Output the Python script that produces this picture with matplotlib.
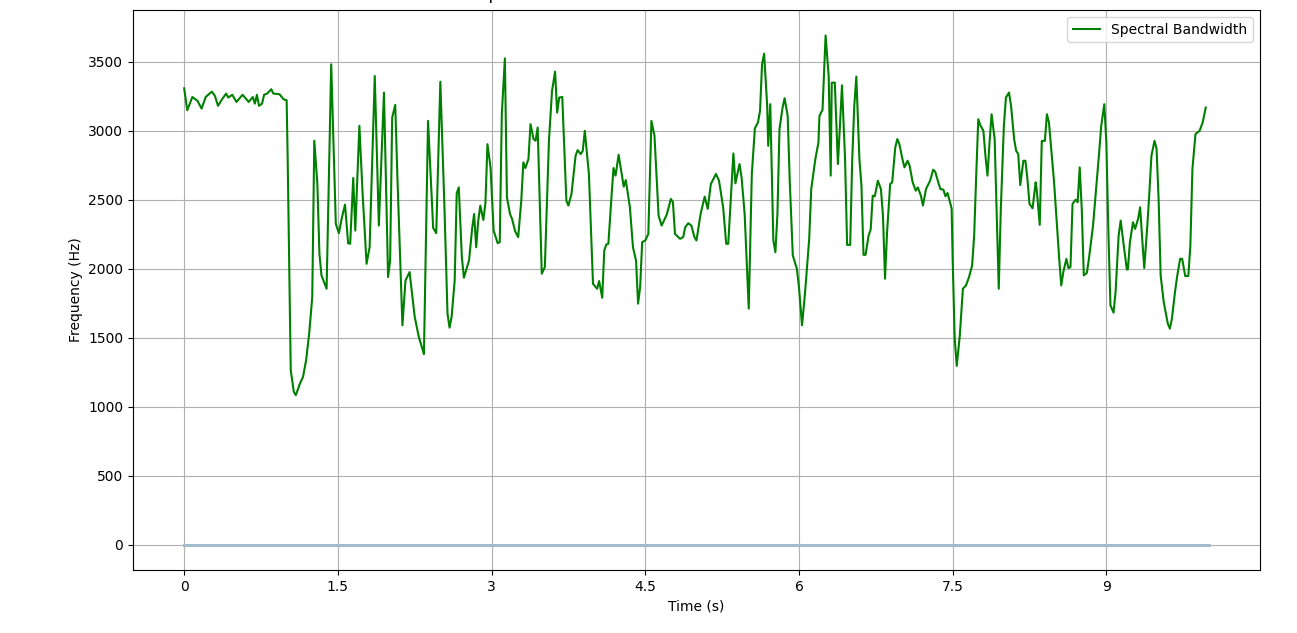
import matplotlib
matplotlib.use("Agg")
import matplotlib.pyplot as plt
from matplotlib.ticker import FuncFormatter

# spectral bandwidth (time in s, Hz)
bw_time = [
    0.00, 0.03, 0.08, 0.13, 0.17, 0.21, 0.27, 0.30, 0.33, 0.37, 0.41, 0.43, 0.47, 0.51,
    0.57, 0.63, 0.67, 0.69, 0.71, 0.73, 0.76, 0.78, 0.81, 0.85, 0.87, 0.93, 0.97, 1.00,
    1.01, 1.04, 1.07, 1.09, 1.13, 1.16, 1.19, 1.22, 1.25, 1.27, 1.30, 1.32, 1.34, 1.39,
    1.435, 1.48, 1.51, 1.54, 1.57, 1.60, 1.62, 1.65, 1.67, 1.71, 1.74, 1.78, 1.81, 1.86,
    1.90, 1.95, 1.99, 2.01, 2.03, 2.06, 2.08, 2.13, 2.16, 2.20, 2.25, 2.29, 2.34, 2.36,
    2.38, 2.43, 2.46, 2.50, 2.54, 2.57, 2.59, 2.61, 2.64, 2.66, 2.68, 2.71, 2.73, 2.78,
    2.81, 2.83, 2.85, 2.87, 2.89, 2.92, 2.94, 2.96, 2.99, 3.02, 3.06, 3.08, 3.10, 3.13,
    3.15, 3.18, 3.20, 3.23, 3.26, 3.29, 3.31, 3.33, 3.36, 3.38, 3.41, 3.43, 3.45, 3.49,
    3.52, 3.56, 3.59, 3.62, 3.64, 3.66, 3.69, 3.73, 3.75, 3.78, 3.82, 3.84, 3.87, 3.89,
    3.91, 3.95, 3.99, 4.03, 4.05, 4.08, 4.10, 4.12, 4.14, 4.17, 4.19, 4.21, 4.24, 4.26,
    4.29, 4.31, 4.35, 4.38, 4.41, 4.43, 4.45, 4.47, 4.50, 4.53, 4.56, 4.59, 4.63, 4.66,
    4.71, 4.75, 4.77, 4.79, 4.84, 4.87, 4.89, 4.92, 4.95, 4.98, 5.00, 5.04, 5.08, 5.11,
    5.14, 5.19, 5.22, 5.26, 5.29, 5.31, 5.33, 5.36, 5.38, 5.42, 5.44, 5.47, 5.51, 5.54,
    5.57, 5.60, 5.62, 5.64, 5.66, 5.69, 5.70, 5.72, 5.75, 5.77, 5.79, 5.81, 5.84, 5.86,
    5.89, 5.91, 5.94, 5.98, 6.00, 6.03, 6.06, 6.10, 6.12, 6.16, 6.19, 6.20, 6.23, 6.26,
    6.29, 6.31, 6.32, 6.35, 6.38, 6.40, 6.42, 6.45, 6.47, 6.50, 6.52, 6.54, 6.56, 6.59,
    6.61, 6.63, 6.65, 6.68, 6.70, 6.72, 6.74, 6.77, 6.80, 6.82, 6.84, 6.86, 6.89, 6.91,
    6.94, 6.96, 6.98, 7.01, 7.03, 7.06, 7.08, 7.11, 7.14, 7.16, 7.19, 7.21, 7.24, 7.28,
    7.31, 7.33, 7.36, 7.38, 7.41, 7.43, 7.45, 7.49, 7.50, 7.52, 7.54, 7.57, 7.60, 7.63,
    7.66, 7.69, 7.71, 7.73, 7.75, 7.77, 7.80, 7.82, 7.84, 7.86, 7.88, 7.91, 7.93, 7.95,
    7.97, 8.00, 8.02, 8.05, 8.07, 8.10, 8.12, 8.14, 8.16, 8.19, 8.21, 8.23, 8.25, 8.28,
    8.31, 8.32, 8.35, 8.37, 8.40, 8.42, 8.44, 8.47, 8.49, 8.52, 8.54, 8.56, 8.58, 8.61,
    8.63, 8.65, 8.67, 8.70, 8.72, 8.74, 8.76, 8.78, 8.81, 8.83, 8.87, 8.90, 8.93, 8.95,
    8.98, 9.00, 9.02, 9.04, 9.07, 9.09, 9.12, 9.14, 9.17, 9.20, 9.21, 9.23, 9.26, 9.28,
    9.31, 9.33, 9.35, 9.37, 9.40, 9.42, 9.44, 9.47, 9.49, 9.51, 9.53, 9.56, 9.60, 9.62,
    9.64, 9.67, 9.69, 9.72, 9.74, 9.77, 9.80, 9.82, 9.84, 9.87, 9.91, 9.94, 9.97,
]
bw_hz = [
    3307, 3148, 3244, 3216, 3160, 3244, 3283, 3252, 3180, 3228, 3269, 3240, 3260, 3208,
    3260, 3208, 3244, 3196, 3260, 3180, 3196, 3260, 3269, 3300, 3269, 3264, 3228, 3220,
    2806, 1264, 1107, 1083, 1167, 1216, 1336, 1529, 1794, 2927, 2613, 2107, 1951, 1854,
    3481, 2324, 2257, 2372, 2464, 2184, 2180, 2657, 2276, 3035, 2565, 2035, 2155, 3396,
    2312, 3276, 1939, 2059, 3095, 3187, 2686, 1589, 1915, 1975, 1650, 1505, 1380, 2204,
    3071, 2295, 2257, 3355, 2445, 1674, 1572, 1650, 1915, 2546, 2589, 2083, 1934, 2059,
    2288, 2396, 2155, 2348, 2457, 2353, 2474, 2902, 2734, 2276, 2184, 2192, 3119, 3524,
    2517, 2396, 2360, 2271, 2228, 2493, 2770, 2729, 2794, 3047, 2939, 2927, 3023, 1963,
    2011, 2927, 3288, 3428, 3131, 3240, 3244, 2493, 2457, 2541, 2818, 2859, 2830, 2854,
    2999, 2686, 1890, 1854, 1910, 1789, 2131, 2175, 2180, 2517, 2729, 2674, 2825, 2734,
    2594, 2642, 2445, 2155, 2059, 1746, 1866, 2192, 2204, 2252, 3071, 2963, 2384, 2312,
    2392, 2505, 2481, 2252, 2216, 2228, 2300, 2329, 2312, 2228, 2204, 2396, 2522, 2433,
    2613, 2686, 2637, 2445, 2180, 2180, 2445, 2835, 2618, 2758, 2661, 2396, 1710, 2686,
    3018, 3059, 3143, 3481, 3558, 3180, 2890, 3192, 2204, 2119, 2396, 3011, 3167, 3235,
    3107, 2637, 2095, 1999, 1866, 1589, 1830, 2216, 2577, 2794, 2914, 3107, 3151, 3690,
    3396, 2674, 3348, 3348, 2758, 3035, 3329, 2794, 2172, 2172, 2794, 3180, 3392, 2794,
    2601, 2100, 2100, 2240, 2283, 2529, 2524, 2637, 2577, 2384, 1927, 2264, 2613, 2625,
    2878, 2939, 2902, 2794, 2734, 2782, 2746, 2625, 2565, 2589, 2529, 2457, 2577, 2637,
    2717, 2702, 2625, 2577, 2572, 2524, 2548, 2437, 2071, 1493, 1295, 1517, 1854, 1878,
    1939, 2023, 2240, 2674, 3083, 3040, 2999, 2818, 2674, 2914, 3119, 2939, 2408, 1854,
    2433, 3035, 3240, 3276, 3180, 2939, 2854, 2830, 2606, 2782, 2782, 2649, 2469, 2437,
    2625, 2577, 2317, 2926, 2926, 3119, 3059, 2794, 2625, 2288, 2071, 1878, 1975, 2071,
    2004, 2011, 2469, 2500, 2481, 2734, 2433, 1951, 1970, 2071, 2312, 2577, 2842, 3035,
    3192, 2914, 2264, 1734, 1681, 1830, 2240, 2348, 2167, 1994, 1994, 2191, 2336, 2288,
    2360, 2445, 2216, 2004, 2312, 2553, 2818, 2926, 2871, 2505, 1951, 1758, 1601, 1565,
    1637, 1830, 1939, 2071, 2071, 1946, 1946, 2167, 2722, 2975, 2999, 3059, 3167,
]

# waveform drawn underneath (amplitude is tiny on the Hz scale)
wave_time = [0.0, 10.0]
wave_amp = [0.0, 0.0]

x_ticks = [0, 1.5, 3, 4.5, 6, 7.5, 9]


def time_label(x, pos):
    return f"{x:g}"


fig = plt.figure(figsize=(12.97, 6.33), dpi=100)
ax = fig.add_axes([0.1025, 0.0995, 0.869, 0.8847])

ax.plot(wave_time, wave_amp, color="#a3bccd", linewidth=2.2)
ax.plot(bw_time, bw_hz, color="g", linewidth=1.5, label="Spectral Bandwidth")

ax.set_xticks(x_ticks)
ax.xaxis.set_major_formatter(FuncFormatter(time_label))
ax.set_xlim(-0.5, 10.5)
ax.set_xlabel("Time (s)")
ax.set_ylabel("Frequency (Hz)")
# the reference is cropped so that only the bottom of the title shows
ax.set_title("Spectral Bandwidth Overlaid on the Audio Waveform", pad=8.2)
ax.grid(True)
ax.legend(loc="upper right")

fig.savefig("out.png", dpi=100)
